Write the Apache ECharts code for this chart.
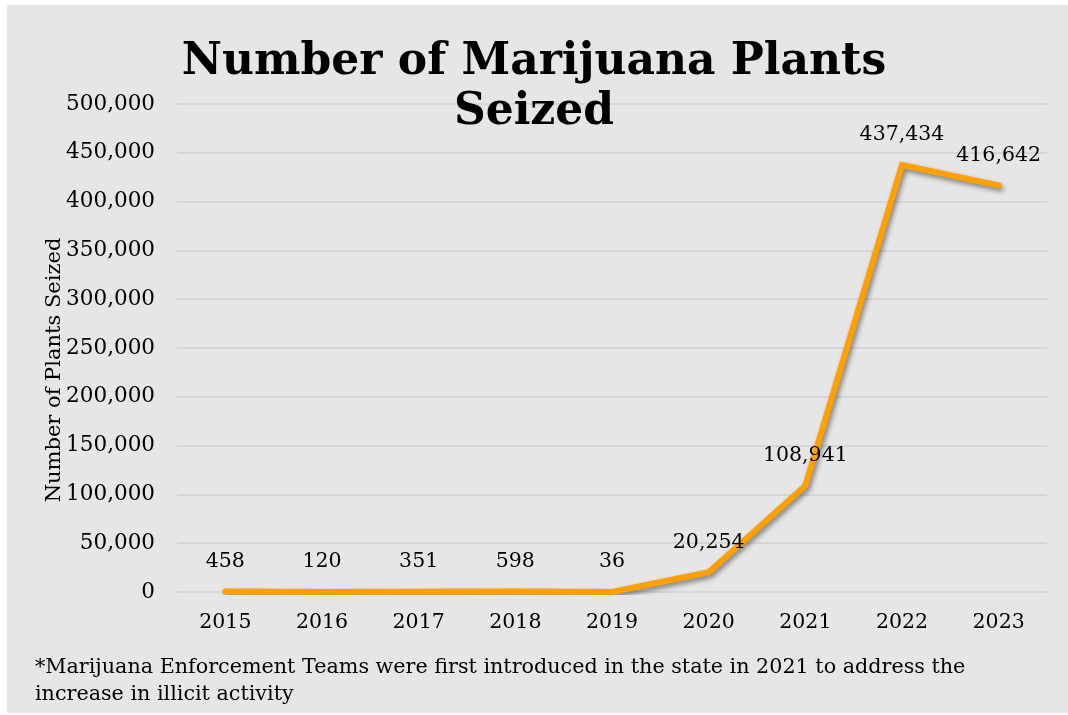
<!DOCTYPE html>
<html>
<head>
<meta charset="utf-8">
<script src="https://cdn.jsdelivr.net/npm/echarts@6/dist/echarts.min.js"></script>
<style>
  html, body { margin: 0; padding: 0; background: #ffffff; }
  #chart { width: 1068px; height: 715px; }
</style>
</head>
<body>
<div id="chart"></div>
<script>
// Yearly counts of marijuana plants seized
const years = ['2015', '2016', '2017', '2018', '2019', '2020', '2021', '2022', '2023'];
const plantsSeized = [458, 120, 351, 598, 36, 20254, 108941, 437434, 416642];
const yTicks = { min: 0, max: 500000, interval: 50000 };

const FONT = '"DejaVu Serif", "Liberation Serif", serif';
const LINE_COLOR = '#ffa000';
const fmt = v => Number(v).toLocaleString('en-US');

const chart = echarts.init(document.getElementById('chart'), null, { renderer: 'canvas' });

chart.setOption({
  backgroundColor: '#ffffff',
  animation: false,
  graphic: [
    {
      type: 'rect',
      z: -10,
      shape: { x: 7, y: 5, width: 1061, height: 708 },
      style: { fill: '#e6e6e6' }
    },
    {
      type: 'text',
      left: 35,
      top: 654,
      style: {
        text: '*Marijuana Enforcement Teams were first introduced in the state in 2021 to address the\nincrease in illicit activity',
        font: '20.7px ' + FONT,
        fill: '#000000',
        lineHeight: 27
      }
    }
  ],
  title: {
    text: 'Number of Marijuana Plants\nSeized',
    left: 'center',
    top: 33,
    textStyle: {
      fontFamily: FONT,
      fontWeight: 'bold',
      fontSize: 44,
      lineHeight: 50,
      color: '#000000'
    }
  },
  grid: { left: 177, right: 21, top: 104, bottom: 123, containLabel: false },
  xAxis: {
    type: 'category',
    data: years,
    boundaryGap: true,
    axisLine: { show: false },
    axisTick: { show: false },
    axisLabel: { color: '#000000', fontFamily: FONT, fontSize: 20.5, margin: 20 }
  },
  yAxis: {
    type: 'value',
    min: yTicks.min,
    max: yTicks.max,
    interval: yTicks.interval,
    name: 'Number of Plants Seized',
    nameLocation: 'middle',
    nameRotate: 90,
    nameGap: 112,
    nameMoveOverlap: false,
    nameTextStyle: { color: '#000000', fontFamily: FONT, fontSize: 21, padding: [0, 44, 0, 0] },
    axisLine: { show: false },
    axisTick: { show: false },
    axisLabel: { color: '#000000', fontFamily: FONT, fontSize: 21.5, margin: 22, formatter: fmt },
    splitLine: { lineStyle: { color: '#d6d6d6', width: 2 } }
  },
  series: [
    {
      type: 'line',
      data: plantsSeized,
      symbol: 'circle',
      symbolSize: 3,
      showSymbol: true,
      itemStyle: { color: LINE_COLOR },
      lineStyle: {
        color: LINE_COLOR,
        width: 6,
        cap: 'round',
        join: 'miter',
        shadowColor: 'rgba(0,0,0,0.45)',
        shadowBlur: 5,
        shadowOffsetX: 2,
        shadowOffsetY: 3
      },
      label: {
        show: true,
        position: 'top',
        distance: 18,
        color: '#000000',
        fontFamily: FONT,
        fontSize: 20.5,
        formatter: p => fmt(p.value)
      }
    }
  ]
});
</script>
</body>
</html>
